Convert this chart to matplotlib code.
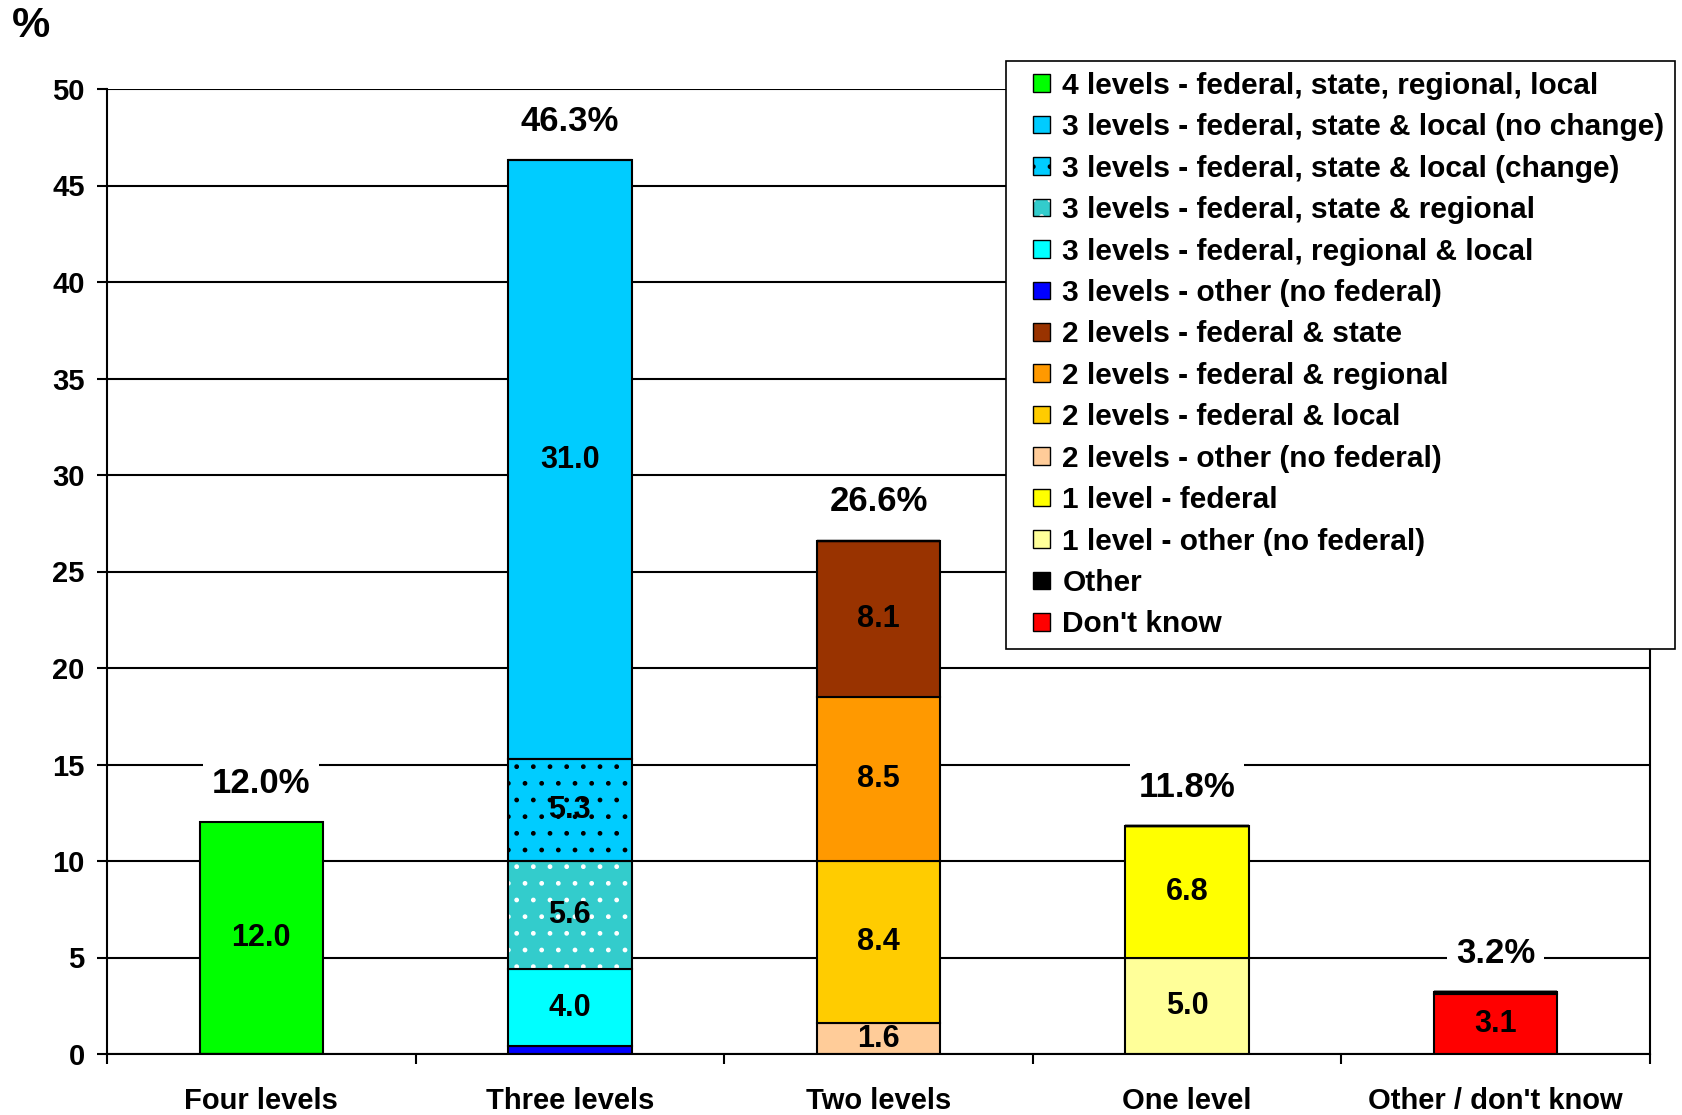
import numpy as np
import matplotlib
matplotlib.use('Agg')
import matplotlib.pyplot as plt
from matplotlib.patches import Patch
from matplotlib.legend_handler import HandlerPatch, HandlerTuple

plt.rcParams['font.family'] = ['Liberation Sans', 'DejaVu Sans']
plt.rcParams['font.weight'] = 'bold'

# data
categories = ['Four levels', 'Three levels', 'Two levels', 'One level', "Other / don't know"]
series_names = [
    '4 levels - federal, state, regional, local',
    '3 levels - federal, state & local (no change)',
    '3 levels - federal, state & local (change)',
    '3 levels - federal, state & regional',
    '3 levels - federal, regional & local',
    '3 levels - other (no federal)',
    '2 levels - federal & state',
    '2 levels - federal & regional',
    '2 levels - federal & local',
    '2 levels - other (no federal)',
    '1 level - federal',
    '1 level - other (no federal)',
    'Other',
    "Don't know",
]
four_fed_state_reg_loc = [12.0, 0, 0, 0, 0]
three_fsl_nochange = [0, 31.0, 0, 0, 0]
three_fsl_change = [0, 5.3, 0, 0, 0]
three_fsr = [0, 5.6, 0, 0, 0]
three_frl = [0, 4.0, 0, 0, 0]
three_other = [0, 0.4, 0, 0, 0]
two_fs = [0, 0, 8.1, 0, 0]
two_fr = [0, 0, 8.5, 0, 0]
two_fl = [0, 0, 8.4, 0, 0]
two_other = [0, 0, 1.6, 0, 0]
one_fed = [0, 0, 0, 6.8, 0]
one_other = [0, 0, 0, 5.0, 0]
other = [0, 0, 0, 0, 0.1]
dont_know = [0, 0, 0, 0, 3.1]
totals = [12.0, 46.3, 26.6, 11.8, 3.2]

series_values = [four_fed_state_reg_loc, three_fsl_nochange, three_fsl_change, three_fsr,
                 three_frl, three_other, two_fs, two_fr, two_fl, two_other,
                 one_fed, one_other, other, dont_know]

# styles
colors = ['#00FF00', '#00CCFF', '#00CCFF', '#33CCCC', '#00FFFF', '#0000FF',
          '#993300', '#FF9900', '#FFCC00', '#FFCC99', '#FFFF00', '#FFFF99',
          '#000000', '#FF0000']
hatches = [None, None, '.', '.', None, None, None, None, None, None, None, None, None, None]
hatch_cols = [None, None, 'black', 'white', None, None, None, None, None, None, None, None, None, None]

fig = plt.figure(figsize=(16.82, 11.15), dpi=100)
ax = fig.add_axes([107 / 1682, 1 - 1054 / 1115, (1650 - 107) / 1682, (1054 - 89) / 1115])

x = np.arange(len(categories))
width = 0.4
bottom = np.zeros(len(categories))

# stack bottom-up in reverse legend order
for idx in reversed(range(len(series_names))):
    vals = np.array(series_values[idx], dtype=float)
    if hatches[idx]:
        ax.bar(x, vals, width, bottom=bottom, color=colors[idx], edgecolor=hatch_cols[idx],
               hatch=hatches[idx], linewidth=0, zorder=2)
        ax.bar(x, vals, width, bottom=bottom, fill=False, edgecolor='black', linewidth=1.5, zorder=3)
    else:
        ax.bar(x, vals, width, bottom=bottom, color=colors[idx], edgecolor='black',
               linewidth=1.5, zorder=2)
    for xi, v, b in zip(x, vals, bottom):
        if v >= 1:
            ax.text(xi, b + v / 2, f'{v:.1f}', ha='center', va='center', fontsize=22,
                    fontweight='bold', zorder=5)
    bottom += vals

for xi, t in zip(x, totals):
    ax.annotate(f'{t:.1f}%', xy=(xi, t), xytext=(0, 28), textcoords='offset points',
                ha='center', va='center', fontsize=25, fontweight='bold', zorder=6,
                bbox=dict(boxstyle='square,pad=0.25', facecolor='white', edgecolor='none'))

ax.set_xlim(-0.5, 4.5)
ax.set_ylim(0, 50)
ax.set_yticks(np.arange(0, 51, 5))
ax.set_xticks(x)
ax.set_xticklabels(categories)
ax.set_xticks(np.arange(-0.5, 4.6, 1), minor=True)
ax.tick_params(axis='x', which='major', length=0, pad=24, labelsize=21)
ax.tick_params(axis='x', which='minor', length=7, width=1.5, direction='out')
ax.tick_params(axis='y', length=7, width=1.5, pad=9, labelsize=21)
ax.yaxis.grid(True, color='black', linewidth=1.5, zorder=0)
ax.set_axisbelow(True)
for s in ['left', 'bottom', 'right']:
    ax.spines[s].set_linewidth(1.5)
ax.spines['top'].set_visible(False)

fig.text(12 / 1682, 1 - 26 / 1115, '%', fontsize=31, fontweight='bold', va='center', ha='left')

handles = []
for idx in range(len(series_names)):
    if hatches[idx]:
        handles.append((Patch(facecolor=colors[idx], edgecolor=hatch_cols[idx], hatch=hatches[idx], linewidth=0),
                        Patch(facecolor='none', edgecolor='black', linewidth=1)))
    else:
        handles.append(Patch(facecolor=colors[idx], edgecolor='black', linewidth=1))

leg = fig.legend(handles, series_names, loc='upper left', bbox_to_anchor=(1006 / 1682, 1 - 61 / 1115),
                 borderaxespad=0, fontsize=21.5, frameon=True, fancybox=False, edgecolor='black',
                 framealpha=1, handlelength=1.1, handleheight=0.53, handletextpad=0.43,
                 labelspacing=0.45, borderpad=0.36,
                 handler_map={Patch: HandlerPatch(xpad=0.55),
                              tuple: HandlerTuple(ndivide=1, xpad=0.55)})
leg.get_frame().set_linewidth(1.2)
leg.set_zorder(10)

fig.savefig('out.png', dpi=100)
